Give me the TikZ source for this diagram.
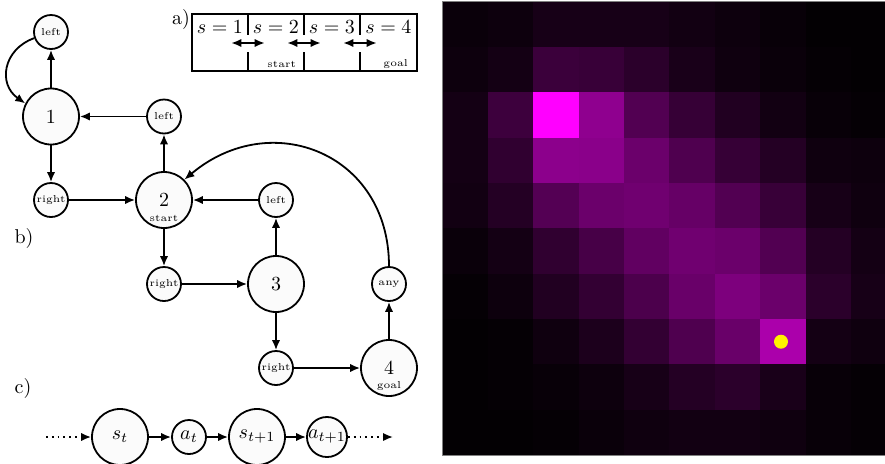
\documentclass[tikz,border=0pt]{standalone}
\usepackage{amsmath, amssymb}
\usepackage{xcolor}
\usepackage{tikz}
\usetikzlibrary{arrows.meta, positioning, calc}

\tikzset{
    state/.style={circle, draw, line width=0.9pt, fill=gray!3, minimum size=28pt, inner sep=0pt},
    act/.style={circle, draw, line width=0.9pt, fill=gray!3, minimum size=17pt, inner sep=0pt},
    link/.style={-{Latex[length=5pt, width=4.2pt]}, line width=0.9pt},
}

\begin{document}
\begin{tikzpicture}[x=0.5pt, y=0.5pt]
    \useasboundingbox (0,0) rectangle (885,463);

    % Panel labels
    \node (lab a) at (181,444) {a)};
    \node (lab b) at (24,225) {b)};
    \node (lab c) at (23,75) {c)};

    % a) Track of four states
    \draw[line width=0.9pt] (192,392) rectangle (417,449);
    \foreach \x in {248,304,360} {
        \draw[line width=0.9pt] (\x,449) -- (\x,428);
        \draw[line width=0.9pt] (\x,411) -- (\x,392);
        \draw[{Latex[length=5pt, width=4.2pt]}-{Latex[length=5pt, width=4.2pt]}, line width=0.9pt] (\x-16.7,420) -- (\x+16.7,420);
    }
    \foreach \cx [count=\k] in {220,276,332,388.5}
        \node (cell \k) at (\cx,436) {$s=\k$};
    \node[font=\tiny, anchor=east] (cell start) at (303,399) {start};
    \node[font=\tiny, anchor=east] (cell goal) at (415,399) {goal};

    % b) State / action graph
    \node[state] (s1) at (51,346.5) {1};
    \node[state] (s2) at (164,263) {2};
    \node[state] (s3) at (276,179) {3};
    \node[state] (s4) at (389,95) {4};
    \node[font=\tiny] (s2 tag) at ([yshift=-9pt]s2.center) {start};
    \node[font=\tiny] (s4 tag) at ([yshift=-9pt]s4.center) {goal};

    \node[act, font=\tiny] (l1) at (51,431) {left};
    \node[act, font=\tiny] (l2) at (164,346.5) {left};
    \node[act, font=\tiny] (l3) at (276,263) {left};
    \node[act, font=\tiny] (r1) at (51,263) {right};
    \node[act, font=\tiny] (r2) at (164,179) {right};
    \node[act, font=\tiny] (r3) at (276,95) {right};
    \node[act, font=\tiny] (any) at (389,179) {any};

    \draw[link] (s1) -- (l1);
    \draw[link] (l1.200) to[out=200, in=145, looseness=1.3] (s1.153);
    \draw[link] (s1) -- (r1);
    \draw[link] (l2) -- (s1);
    \draw[link] (r1) -- (s2);
    \draw[link] (s2) -- (l2);
    \draw[link] (l3) -- (s2);
    \draw[link] (s2) -- (r2);
    \draw[link] (r2) -- (s3);
    \draw[link] (s3) -- (l3);
    \draw[link] (s3) -- (r3);
    \draw[link] (r3) -- (s4);
    \draw[link] (s4) -- (any);
    \draw[link] (any) to[out=90, in=40, looseness=1.3] (s2.45);

    % c) Unrolled sequence
    \coordinate (seq in) at (46,26);
    \coordinate (seq out) at (393,26);
    \node[state] (st) at (120,26) {$s_t$};
    \node[act] (at) at (189,26) {$a_t$};
    \node[state] (st1) at (257,26) {$s_{t+1}$};
    \node[act] (at1) at (327,26) {$a_{t+1}$};
    \draw[link, dotted] (seq in) -- (st);
    \draw[link] (st) -- (at);
    \draw[link] (at) -- (st1);
    \draw[link] (st1) -- (at1);
    \draw[link, dotted] (at1) -- (seq out);

    % Value heat map (cut at the right edge)
    \begin{scope}
        \clip (440,0) rectangle (885,463);
        \foreach \row [count=\r from 0] in {
            {4,5,9,9,9,7,5,3,1,1},
            {5,8,23,22,17,10,6,4,2,1},
            {8,24,100,56,32,21,13,7,3,2},
            {8,19,55,54,42,31,21,14,6,5},
            {7,14,33,42,44,40,32,22,9,6},
            {4,8,19,28,38,44,42,32,14,8},
            {2,5,13,20,30,41,49,42,17,9},
            {1,2,6,11,20,31,41,67,8,6},
            {1,2,3,5,9,14,17,10,3,2},
            {1,1,2,4,6,7,7,6,3,2}} {
            \foreach \v [count=\c from 0] in \row {
                \pgfmathsetmacro\lv{\v/100}
                \definecolor{cellc}{rgb}{\lv,0,\lv}
                \fill[cellc] (442.7+\c*45.35,461.5-\r*45.35) rectangle ++(45.35,-45.35);
            }
        }
        \draw[gray, thin] (442.7,8) rectangle (896.2,461.5);
    \end{scope}
    \fill[yellow] (781,121.3) circle (7);
\end{tikzpicture}
\end{document}
